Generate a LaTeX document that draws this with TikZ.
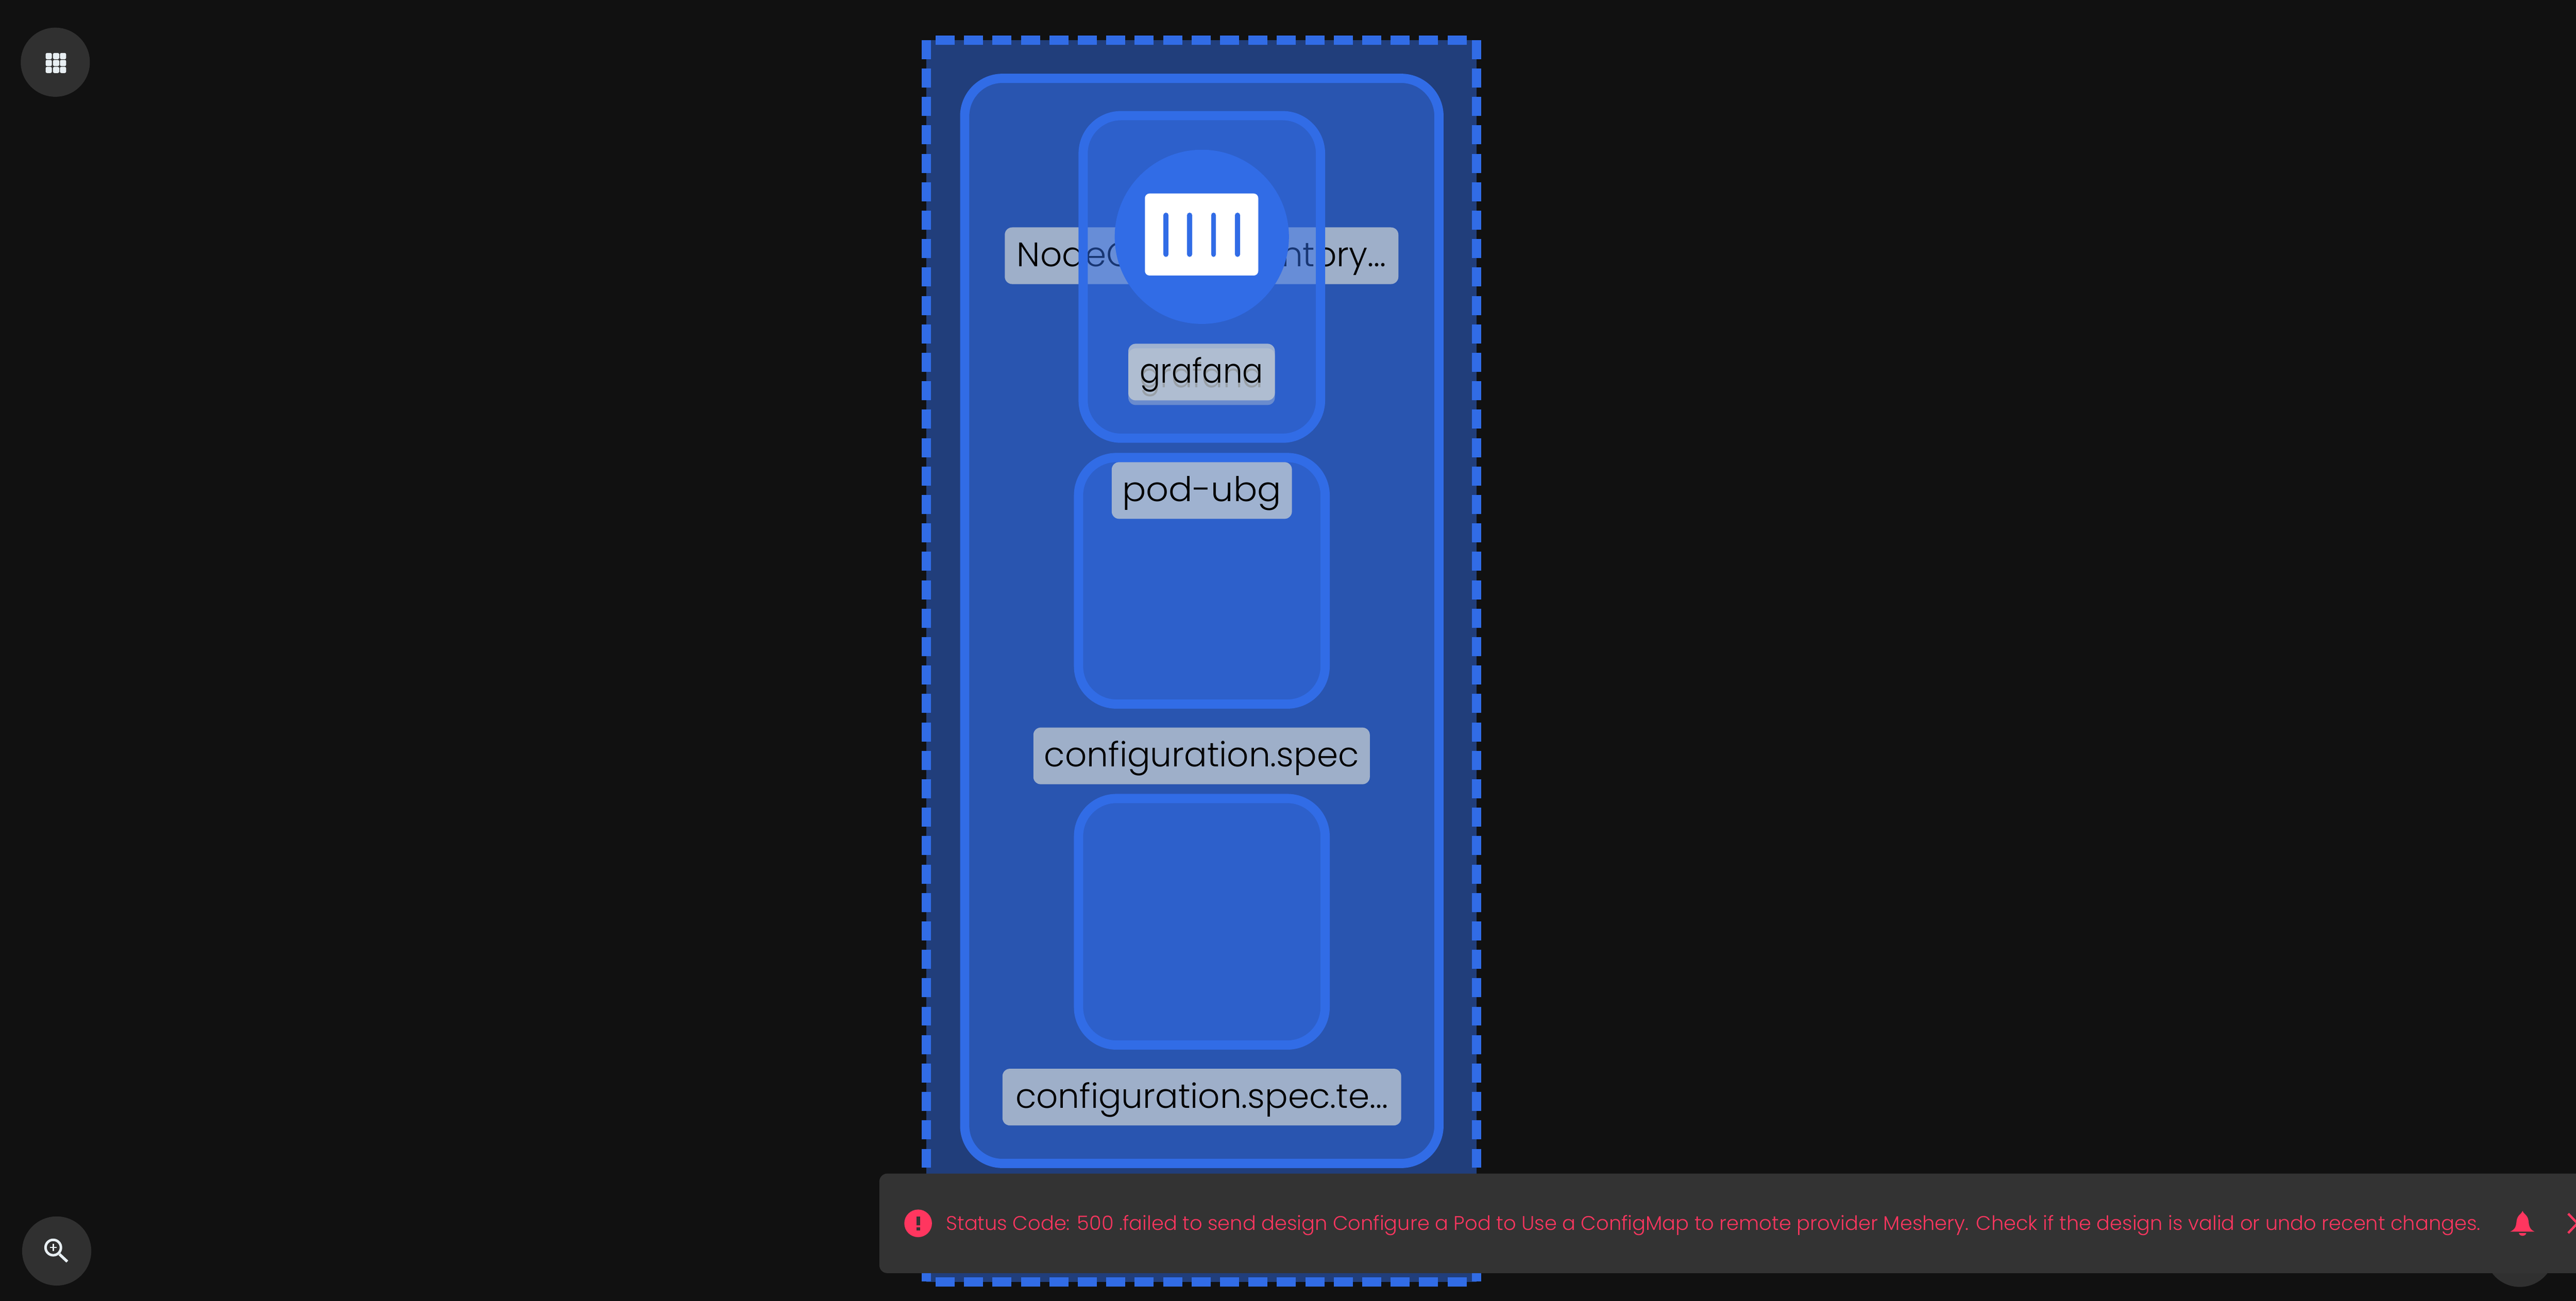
\documentclass[tikz,border=0pt]{standalone}
\usepackage{fontspec}
\setmainfont{Poppins}[UprightFont=* Light]
\definecolor{pagebg}{RGB}{17,17,17}
\definecolor{nodeblue}{RGB}{49,108,230}
\definecolor{labelgrey}{RGB}{200,207,211}
\definecolor{panelgrey}{RGB}{51,51,51}
\definecolor{buttongrey}{RGB}{48,48,48}
\definecolor{iconwhite}{RGB}{232,239,243}
\definecolor{alertred}{RGB}{255,54,95}
\tikzset{
      compound/.style={rectangle, draw=nodeblue, line width=0.2cm, fill=nodeblue, fill opacity=.5, rounded corners=0.82cm, outer sep=0pt},
      namelabel/.style={rectangle, fill=labelgrey, fill opacity=.74, text opacity=1, text=black, rounded corners=0.16cm, minimum height=1.23cm, inner sep=0pt, outer sep=0pt, text height=18pt, text depth=4.6pt, font=\fontsize{21}{25}\selectfont},
      shadowlabel/.style={namelabel, fill opacity=.39, text opacity=.8},
      roundbutton/.style={circle, fill=buttongrey, minimum size=1.5cm, inner sep=0pt},
      dashedge/.style={draw=nodeblue, line width=0.2cm, dash pattern=on 0.413cm off 0.204cm},
      gridcell/.style={fill=iconwhite, rounded corners=0.03cm},
      podbar/.style={draw=nodeblue, line width=0.11cm, line cap=round},
}

\begin{document}
\begin{tikzpicture}[y=-1cm]

        \clip (0,0) rectangle (55.89,28.23);
        \fill[pagebg] (0,0) rectangle (55.89,28.23);

        \node[rectangle, fill=nodeblue, fill opacity=.5, outer sep=0pt, minimum width=11.94cm, minimum height=26.95cm](designbox) at (26.07,14.345) {};
        \draw[dashedge] ([xshift=0.2cm]designbox.north west) -- ([xshift=-0.21cm]designbox.north east);
        \draw[dashedge] ([xshift=0.2cm]designbox.south west) -- ([xshift=-0.21cm]designbox.south east);
        \draw[dashedge] (designbox.north west) -- (designbox.south west);
        \draw[dashedge] (designbox.north east) -- (designbox.south east);

        \node[compound, minimum width=10.29cm, minimum height=23.55cm](nsbox) at (26.075,13.475) {};

        \node[namelabel, minimum width=8.54cm](nslabel) at (26.07,5.55) {\makebox[228pt][s]{NodeC\hfill ntory...}};

        \node[compound, minimum width=5.15cm, minimum height=7cm](grafanabox) at (26.075,6.01) {};
        \node[circle, fill=nodeblue, minimum size=3.78cm, inner sep=0pt](grafanaicon) at (26.075,5.14) {};
        \node[rectangle, fill=white, rounded corners=0.1cm, minimum width=2.46cm, minimum height=1.78cm, inner sep=0pt](iconcard) at (26.07,5.09) {};
        \foreach \barx in {25.30,25.81,26.33,26.85} {
            \draw[podbar] (\barx,4.67) -- (\barx,5.52);
        }

        \node[shadowlabel, minimum width=3.18cm](grafanashadow) at (26.07,8.175) {\scalebox{.9}[1]{grafana}};
        \node[namelabel, minimum width=3.18cm](grafanalabel) at (26.07,8.075) {\scalebox{.9}[1]{grafana}};

        \node[compound, minimum width=5.35cm, minimum height=5.35cm](podbox) at (26.075,12.605) {};
        \node[namelabel, minimum width=3.91cm](podlabel) at (26.075,10.645) {\scalebox{1.04}[1]{pod-ubg}};

        \node[namelabel, minimum width=7.3cm](speclabel) at (26.07,16.405) {configuration.spec};

        \node[compound, minimum width=5.35cm, minimum height=5.35cm](specbox) at (26.075,20.005) {};
        \node[namelabel, minimum width=8.65cm](testlabel) at (26.075,23.81) {configuration.spec.te...};

        \node[roundbutton](menubutton) at (1.2,1.35) {};
        \foreach \cellx in {0.99,1.15,1.30} {
            \foreach \celly in {1.15,1.30,1.45} {
                \fill[gridcell] (\cellx,\celly) rectangle ++(0.135,0.135);
            }
        }

        \node[roundbutton](zoombutton) at (1.23,27.15) {};
        \draw[iconwhite, line width=0.055cm] (1.155,27.075) circle (0.167);
        \draw[iconwhite, line width=0.028cm] (1.08,27.075) -- (1.23,27.075);
        \draw[iconwhite, line width=0.028cm] (1.155,27.0) -- (1.155,27.15);
        \draw[iconwhite, line width=0.06cm] (1.29,27.22) -- (1.46,27.38);

        \node[roundbutton](hiddenbutton) at (54.67,27.18) {};

        \node[rectangle, fill=panelgrey, rounded corners=0.17cm, outer sep=0pt, minimum width=37.12cm, minimum height=2.16cm](alertbar) at (37.64,26.55) {};
        \node[circle, fill=alertred, minimum size=0.6cm, inner sep=0pt](alerticon) at (19.92,26.55) {};
        \fill[panelgrey] (19.88,26.40) rectangle (19.96,26.59);
        \fill[panelgrey] (19.88,26.64) rectangle (19.96,26.70);
        \node[anchor=base west, inner sep=0pt, text=alertred, font=\fontsize{12.2}{14}\selectfont](alerttext) at (20.52,26.70) {Status Code: 500 .failed to send design Configure a Pod to Use a ConfigMap to remote provider Meshery. Check if the design is valid or undo recent changes.};

        \fill[alertred] (54.73,26.28) .. controls (54.70,26.36) and (54.62,26.36) .. (54.60,26.50) .. controls (54.59,26.60) and (54.58,26.68) .. (54.46,26.73) -- (54.99,26.73) .. controls (54.88,26.68) and (54.87,26.60) .. (54.86,26.50) .. controls (54.84,26.36) and (54.76,26.36) .. cycle;
        \fill[alertred] (54.65,26.76) -- (54.81,26.76) .. controls (54.80,26.84) and (54.66,26.84) .. cycle;
        \draw[alertred, line width=0.05cm] (55.72,26.34) -- (56.12,26.76);
        \draw[alertred, line width=0.05cm] (55.72,26.76) -- (56.12,26.34);

    \end{tikzpicture}
\end{document}
